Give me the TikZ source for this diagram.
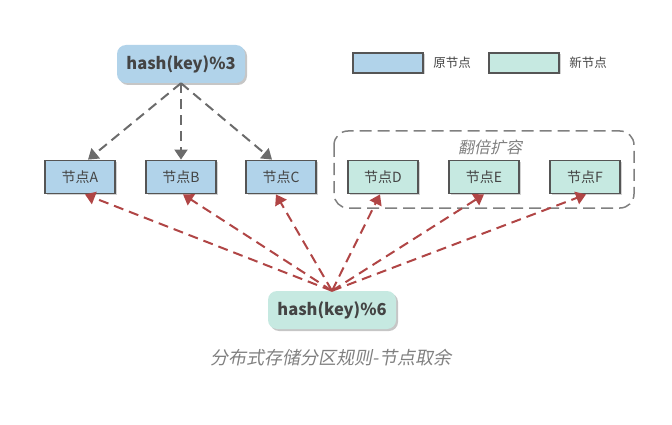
\documentclass[tikz,border=0pt]{standalone}
\usepackage{fontspec}
\setmainfont{Noto Sans CJK SC}
\newfontfamily\slantfont[FakeSlant=0.2]{Noto Sans CJK SC}
\usetikzlibrary{shapes.geometric, arrows.meta, positioning, calc, shadows}

\definecolor{oldfill}{HTML}{B1D3EA}
\definecolor{newfill}{HTML}{C6E9E1}
\definecolor{boxline}{HTML}{555555}
\definecolor{grayarrow}{HTML}{6B6B6B}
\definecolor{redarrow}{HTML}{B04545}
\definecolor{textgray}{HTML}{444444}

\begin{document}
\begin{tikzpicture}[x=1pt, y=-1pt,
		hashbox/.style={rounded corners=9pt, minimum width=128pt, minimum height=38pt, text=textgray, font=\fontsize{16.5}{18}\selectfont\bfseries, drop shadow={opacity=0.45, shadow xshift=2pt, shadow yshift=-2pt}},
		nodebox/.style={draw=boxline, line width=1.8pt, minimum width=70pt, minimum height=33pt, text=textgray, font=\fontsize{14}{16}\selectfont, drop shadow={opacity=0.35, shadow xshift=1.5pt, shadow yshift=-1.5pt}},
		legendbox/.style={draw=boxline, line width=1.8pt, minimum width=70pt, minimum height=20pt, drop shadow={opacity=0.35, shadow xshift=1.5pt, shadow yshift=-1.5pt}},
		grayline/.style={grayarrow, line width=2pt, dash pattern=on 10pt off 6pt, -{Triangle[length=10pt, width=13pt]}},
		redline/.style={redarrow, line width=2pt, dash pattern=on 10pt off 6pt, -{Triangle[length=10pt, width=13pt]}}]
	\useasboundingbox (0,0) rectangle (672,425);
	% Hash boxes
	\node[hashbox, fill=oldfill] (hashold) at (181,64) {hash(key)\%3};
	\node[hashbox, fill=newfill] (hashnew) at (332,310) {hash(key)\%6};
	% Legend
	\node[legendbox, fill=oldfill] (legold) at (388,63) {};
	\node[right=6pt of legold, text=textgray, font=\fontsize{12.5}{14}\selectfont] (legoldtext) {原节点};
	\node[legendbox, fill=newfill] (legnew) at (524,63) {};
	\node[right=6pt of legnew, text=textgray, font=\fontsize{12.5}{14}\selectfont] (legnewtext) {新节点};
	% Expansion group
	\draw[gray, line width=1.5pt, dash pattern=on 12pt off 6pt, rounded corners=14pt] (334,131) rectangle (634,208);
	\node[text=gray, font=\fontsize{16}{18}\slantfont] (grouplabel) at (490,147) {翻倍扩容};
	% Nodes
	\node[nodebox, fill=oldfill] (nodeA) at (80,177) {节点A};
	\node[nodebox, fill=oldfill] (nodeB) at (181,177) {节点B};
	\node[nodebox, fill=oldfill] (nodeC) at (281,177) {节点C};
	\node[nodebox, fill=newfill] (nodeD) at (383,177) {节点D};
	\node[nodebox, fill=newfill] (nodeE) at (484,177) {节点E};
	\node[nodebox, fill=newfill] (nodeF) at (585,177) {节点F};
	% Old routing
	\draw[grayline] (hashold.south) -- ($(nodeA.north)+(8,0)$);
	\draw[grayline] (hashold.south) -- (nodeB.north);
	\draw[grayline] (hashold.south) -- ($(nodeC.north)+(-9,0)$);
	% New routing
	\foreach \n/\dx in {A/5, B/2, C/-5, D/-3, E/0, F/1}
		\draw[redline] (hashnew.north) -- ($(node\n.south)+(\dx,0)$);
	% Caption
	\node[text=gray, font=\fontsize{18}{20}\slantfont] (caption) at (331,358) {分布式存储分区规则-节点取余};
\end{tikzpicture}
\end{document}
